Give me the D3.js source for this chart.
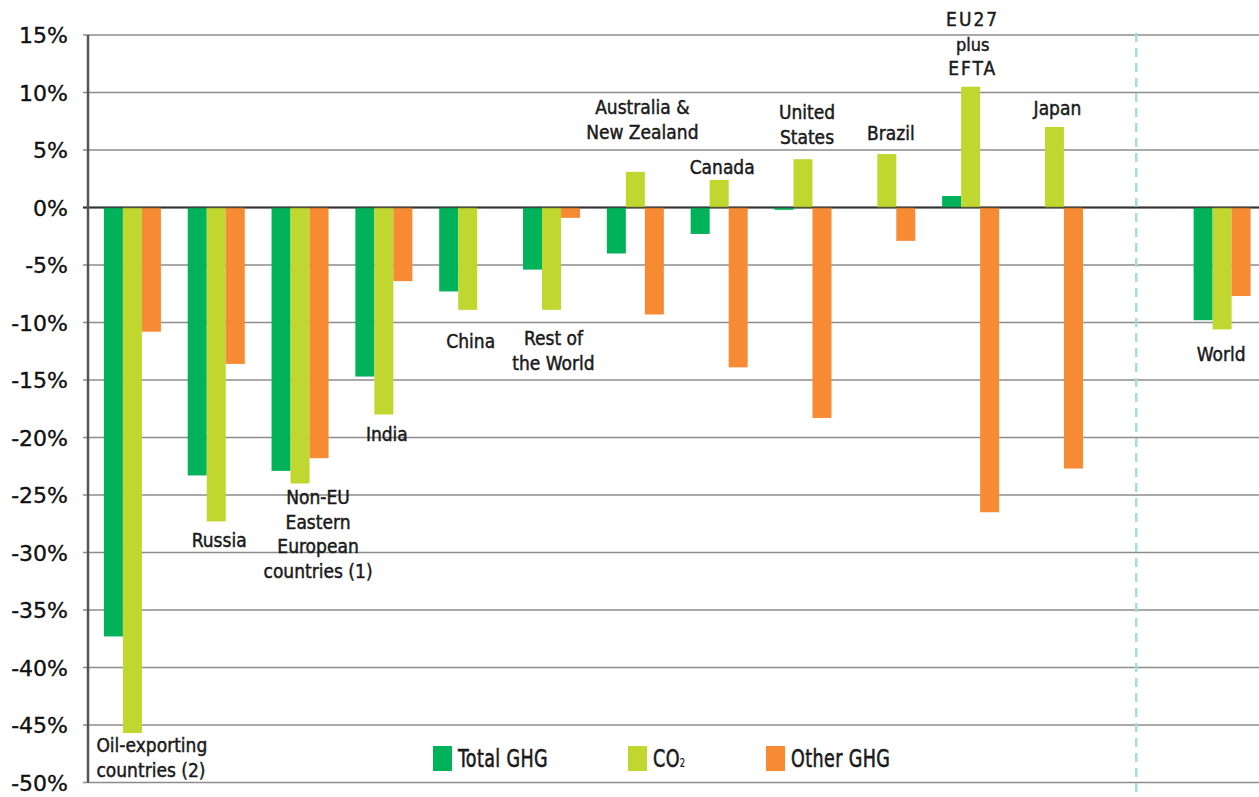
<!DOCTYPE html>
<html>
<head>
<meta charset="utf-8">
<script src="https://cdn.jsdelivr.net/npm/d3@7"></script>
<style>
  body { margin: 0; background: #fff; }
  svg { display: block; }
  .lbl { font-family: "DejaVu Sans Condensed", sans-serif; font-size: 19px; fill: #1a1a1a; stroke: #1a1a1a; stroke-width: 0.45px; }
  .ytick { font-family: "DejaVu Sans", sans-serif; font-size: 22px; fill: #111; stroke: #111; stroke-width: 0.35px; }
</style>
</head>
<body>
<svg id="chart" width="1259" height="797"></svg>
<script>
// data
const categories = ["Oil", "Russia", "NonEU", "India", "China", "RoW", "Aus", "Canada", "US", "Brazil", "EU", "Japan", "gap", "World"];
const labels = [
  ["Oil-exporting", "countries (2)"],
  ["Russia"],
  ["Non-EU", "Eastern", "European", "countries (1)"],
  ["India"],
  ["China"],
  ["Rest of", "the World"],
  ["Australia &", "New Zealand"],
  ["Canada"],
  ["United", "States"],
  ["Brazil"],
  ["EU27", "plus", "EFTA"],
  ["Japan"],
  [],
  ["World"]
];
const totalGHG = [-37.3, -23.3, -22.9, -14.7, -7.3, -5.4, -4.0, -2.3, -0.2, 0, 1.0, 0, null, -9.8];
const co2 = [-45.7, -27.3, -24.0, -18.0, -8.9, -8.9, 3.1, 2.4, 4.2, 4.65, 10.5, 7.0, null, -10.6];
const otherGHG = [-10.8, -13.6, -21.8, -6.4, 0, -0.9, -9.3, -13.9, -18.3, -2.9, -26.5, -22.7, null, -7.7];
const seriesNames = ["Total GHG", "CO2", "Other GHG"];
const yTicks = [15, 10, 5, 0, -5, -10, -15, -20, -25, -30, -35, -40, -45, -50];

// layout
const colors = ["#00b259", "#c0d72f", "#f68b33"];
// label anchor: [dx from group centre, first baseline y, anchor]
const labelPos = [
  [-36, 752, "start"], [3, 547, "middle"], [18, 504, "middle"], [3, 441, "middle"],
  [3, 348, "middle"], [2, 345, "middle"], [7, 114, "middle"], [3, 174, "middle"],
  [4, 119, "middle"], [4, 140, "middle"], [2, 26, "middle"], [3, 115, "middle"],
  [0, 0, "middle"], [-1, 361, "middle"]
];
const legX = [433, 628, 766];

const svg = d3.select("#chart");
const y = d3.scaleLinear().domain([-50, 15]).range([782.5, 35]);
const x = d3.scaleBand().domain(categories).range([90.5, 1264]).paddingInner(0.32).paddingOuter(0.16);
const xs = d3.scaleBand().domain(seriesNames).range([0, x.bandwidth()]);
const axisX = 88;

// gridlines
svg.append("g").selectAll("line").data(yTicks).join("line")
  .attr("x1", axisX - 5).attr("x2", 1259)
  .attr("y1", d => y(d)).attr("y2", d => y(d))
  .attr("stroke", d => d === 0 ? "#333" : "#8c8c8c")
  .attr("stroke-width", d => d === 0 ? 2 : 1.6);

svg.append("g").selectAll("text").data(yTicks).join("text")
  .attr("class", "ytick")
  .attr("x", 68).attr("y", d => y(d) + 8)
  .attr("text-anchor", "end")
  .text(d => d + "%");

// dashed separator
const sepX = x("gap") + x.bandwidth() / 2 - 2;
svg.append("line")
  .attr("x1", sepX).attr("x2", sepX).attr("y1", 33).attr("y2", 797)
  .attr("stroke", "#a6dde0").attr("stroke-width", 2.5)
  .attr("stroke-dasharray", "9,6");

// bars
const series = [totalGHG, co2, otherGHG];
series.forEach((vals, si) => {
  svg.append("g").selectAll("rect")
    .data(categories.map((c, i) => ({c, v: vals[i]})).filter(d => d.v !== null && d.v !== 0))
    .join("rect")
    .attr("x", d => x(d.c) + xs(seriesNames[si]))
    .attr("width", xs.bandwidth())
    .attr("y", d => y(Math.max(0, d.v)))
    .attr("height", d => Math.abs(y(d.v) - y(0)))
    .attr("fill", colors[si]);
});

// redraw zero line and left axis over bars
svg.append("line").attr("x1", axisX - 5).attr("x2", 1259).attr("y1", y(0)).attr("y2", y(0))
  .attr("stroke", "#333").attr("stroke-width", 1.5).attr("opacity", 0.6);
svg.append("line").attr("x1", axisX).attr("x2", axisX).attr("y1", y(15)).attr("y2", y(-50))
  .attr("stroke", "#555").attr("stroke-width", 2.5);

// category labels
categories.forEach((c, i) => {
  const lines = labels[i];
  if (!lines.length) return;
  const [dx, by, anchor] = labelPos[i];
  const cx = x(c) + x.bandwidth() / 2 + dx;
  const t = svg.append("text").attr("class", "lbl").attr("text-anchor", anchor);
  lines.forEach((ln, k) => {
    const ts = t.append("tspan").attr("x", cx).attr("y", by + k * 24.5).text(ln);
    if (c === "EU") {
      if (ln === "plus") ts.style("font-size", "18px");
      else ts.style("letter-spacing", "2px");
    }
  });
});

// legend (text squeezed horizontally like the condensed original)
const leg = svg.append("g");
seriesNames.forEach((s, i) => {
  leg.append("rect").attr("x", legX[i]).attr("y", 746).attr("width", 19).attr("height", 25).attr("fill", colors[i]);
  const t = leg.append("g").attr("transform", `translate(${legX[i] + 25},767) scale(0.78,1)`)
    .append("text").attr("class", "lbl")
    .style("font-size", "25px").style("letter-spacing", "0.5px").style("stroke-width", "0.6px");
  if (s === "CO2") {
    t.append("tspan").text("CO");
    t.append("tspan").text("2").style("font-size", "12px").style("stroke-width", "0.2px");
  } else {
    t.text(s);
  }
});
</script>
</body>
</html>
